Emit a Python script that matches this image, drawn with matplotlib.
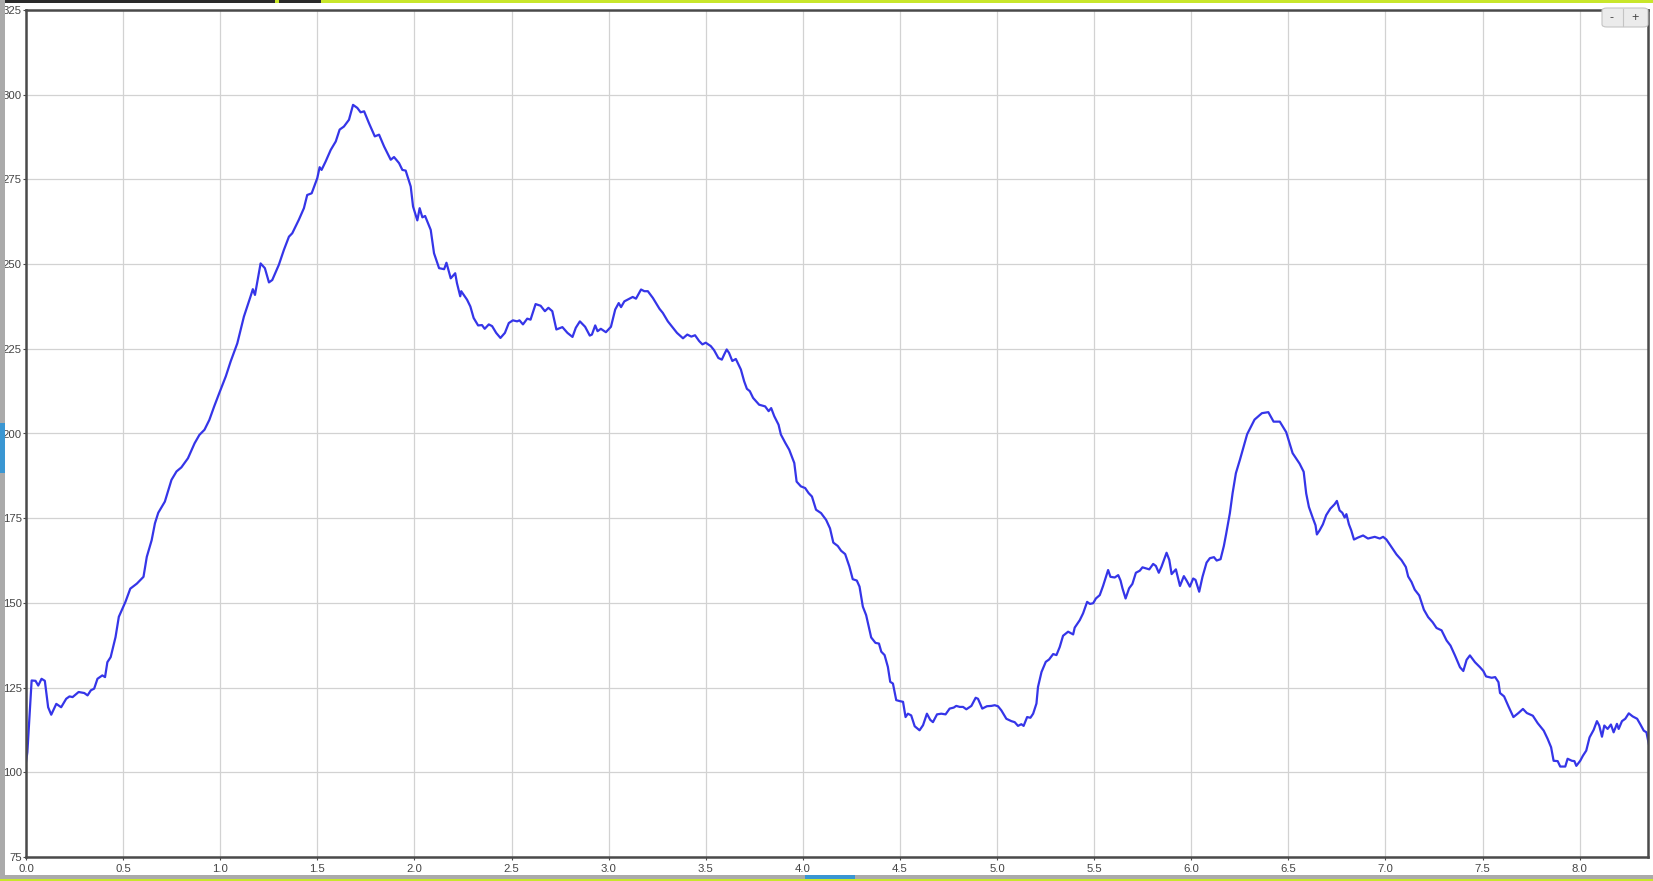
import matplotlib
matplotlib.use("Agg")
import matplotlib.pyplot as plt
from matplotlib.patches import Rectangle, FancyBboxPatch

# distance (x) and value (y)
distance = [
    0.0, 0.007, 0.029, 0.049, 0.063, 0.08, 0.097, 0.114, 0.13, 0.156, 0.181, 0.207, 0.224, 0.24,
    0.271, 0.3, 0.317, 0.334, 0.351, 0.368, 0.393, 0.407, 0.419, 0.436, 0.461, 0.478, 0.512,
    0.537, 0.571, 0.605, 0.622, 0.647, 0.664, 0.681, 0.715, 0.749, 0.775, 0.8, 0.834, 0.868,
    0.893, 0.919, 0.944, 0.969, 0.995, 1.029, 1.054,
    1.088, 1.122, 1.156, 1.168, 1.179, 1.208, 1.23, 1.251, 1.268, 1.302, 1.328, 1.354, 1.371,
    1.405, 1.431, 1.448, 1.471, 1.5, 1.512, 1.522, 1.543, 1.569, 1.595, 1.615, 1.637, 1.663,
    1.684, 1.706, 1.723, 1.741, 1.766, 1.796, 1.818, 1.844, 1.878, 1.895, 1.921, 1.938, 1.955,
    1.981, 1.993, 2.015, 2.027, 2.041, 2.055, 2.084, 2.101, 2.127, 2.153, 2.165, 2.187, 2.21,
    2.219, 2.236, 2.241, 2.271, 2.288, 2.305, 2.328, 2.348, 2.362, 2.383, 2.4, 2.421, 2.443,
    2.466, 2.486, 2.507, 2.529, 2.541, 2.559, 2.581, 2.598, 2.624, 2.65, 2.672, 2.69, 2.71,
    2.731, 2.762, 2.788, 2.814, 2.831, 2.852, 2.879, 2.903, 2.914, 2.931, 2.943, 2.96, 2.986,
    3.012, 3.034, 3.052, 3.064, 3.081, 3.107, 3.124, 3.141, 3.167, 3.184, 3.202, 3.228, 3.262,
    3.279, 3.305, 3.331, 3.352,
    3.383, 3.405, 3.426, 3.445, 3.466, 3.483, 3.5, 3.526, 3.543, 3.565, 3.583, 3.595, 3.608,
    3.62, 3.637, 3.655, 3.681, 3.698, 3.712, 3.727, 3.744, 3.775, 3.806, 3.824, 3.837, 3.853,
    3.875, 3.887, 3.91, 3.93, 3.956, 3.968, 3.99, 4.012, 4.03, 4.047, 4.068, 4.094, 4.12, 4.14,
    4.157, 4.18, 4.197, 4.218, 4.24, 4.257, 4.278, 4.292, 4.309, 4.326, 4.352, 4.374, 4.392,
    4.404, 4.421, 4.438, 4.45, 4.464, 4.481,
    4.5, 4.516, 4.529, 4.541, 4.558, 4.576, 4.601, 4.619, 4.639, 4.656, 4.67, 4.691, 4.713,
    4.735, 4.756, 4.777, 4.79, 4.808, 4.825, 4.842, 4.868, 4.89, 4.902, 4.924, 4.948, 4.971,
    4.988, 5.005, 5.022, 5.048, 5.074, 5.091, 5.108, 5.125, 5.137, 5.155, 5.172, 5.186, 5.203,
    5.211, 5.229, 5.251, 5.268, 5.289, 5.306, 5.323, 5.34, 5.366, 5.392, 5.4, 5.426, 5.443,
    5.464, 5.478, 5.495, 5.509, 5.529, 5.546, 5.572, 5.584, 5.606, 5.624, 5.636, 5.646, 5.662,
    5.68, 5.697, 5.715, 5.735, 5.749, 5.784, 5.804, 5.818, 5.833, 5.847, 5.873, 5.887, 5.899,
    5.921, 5.942, 5.962, 5.976, 5.993, 6.01, 6.022, 6.041, 6.058, 6.079, 6.096, 6.117, 6.131,
    6.151, 6.168, 6.179, 6.199, 6.213, 6.23, 6.251,
    6.288, 6.326, 6.364, 6.397, 6.424, 6.456, 6.489, 6.522,
    6.558, 6.579, 6.592, 6.606, 6.627, 6.64, 6.647, 6.661, 6.678, 6.695, 6.716, 6.738, 6.75,
    6.764, 6.778, 6.79, 6.799, 6.812, 6.824, 6.838, 6.859, 6.885, 6.91, 6.945, 6.971, 6.988,
    7.005, 7.031, 7.057, 7.083, 7.105, 7.117, 7.134, 7.151, 7.174, 7.198, 7.22, 7.243, 7.263,
    7.289, 7.315, 7.335, 7.358, 7.384, 7.401, 7.418, 7.435, 7.461, 7.487, 7.504, 7.518, 7.547,
    7.565, 7.582, 7.59, 7.611, 7.634, 7.659, 7.685, 7.708, 7.728, 7.759, 7.784, 7.815, 7.835,
    7.853, 7.866, 7.887, 7.9, 7.926, 7.938, 7.96, 7.973, 7.983, 8.003, 8.017, 8.034, 8.051,
    8.072, 8.089, 8.101, 8.115, 8.127, 8.144, 8.161, 8.175, 8.192, 8.201, 8.218, 8.235, 8.253,
    8.273, 8.296, 8.313, 8.33, 8.344, 8.356,
]
values = [
    103.0, 105.9, 127.1, 127.0, 125.6, 127.6, 127.0, 119.2, 117.0, 120.2, 119.2, 121.7, 122.4, 122.2,
    123.7, 123.4, 122.7, 124.2, 124.7, 127.6, 128.6, 128.1, 132.5, 134.0, 139.9, 145.9, 150.3,
    154.2, 155.7, 157.7, 163.6, 168.5, 173.5, 176.6, 179.9, 186.3, 188.8, 190.0, 192.7, 197.1,
    199.6, 201.1, 204.0, 208.0, 211.9, 216.9, 221.3,
    226.6, 234.5, 240.4, 242.6, 240.9, 250.2, 248.8, 244.6, 245.3, 249.8, 254.2, 258.1, 259.1,
    263.1, 266.5, 270.4, 270.9, 275.4, 278.6, 277.8, 280.3, 283.7, 286.2, 289.7, 290.6, 292.6,
    297.0, 296.1, 294.8, 295.1, 291.6, 287.7, 288.2, 284.7, 280.8, 281.6, 279.8, 277.8, 277.6,
    272.9, 267.0, 262.9, 266.5, 263.8, 264.2, 260.1, 253.2, 248.8, 248.5, 250.4, 245.8, 247.3,
    244.4, 240.5, 242.0, 239.5, 237.5, 234.1, 231.9, 232.0, 230.9, 232.2, 231.7, 229.7, 228.2,
    229.7, 232.6, 233.4, 233.1, 233.4, 232.2, 233.9, 233.6, 238.2, 237.7, 236.1, 237.1, 236.1,
    230.7, 231.4, 229.7, 228.5, 231.2, 233.1, 231.5, 228.9, 229.2, 231.9, 230.2, 230.9, 229.9,
    231.5, 236.6, 238.5, 237.3, 239.0, 239.8, 240.3, 239.8, 242.5, 242.0, 242.0, 240.0, 236.8,
    235.6, 233.1, 231.2, 229.7,
    228.1, 229.2, 228.6, 229.0, 227.3, 226.3, 226.8, 225.8, 224.6, 222.3, 221.8, 223.3, 224.8,
    223.8, 221.4, 222.0, 218.9, 215.4, 213.2, 212.5, 210.5, 208.5, 208.0, 206.6, 207.5, 205.1,
    202.6, 199.7, 197.2, 195.2, 191.3, 185.8, 184.4, 183.9, 182.4, 181.4, 177.5, 176.5, 174.5, 172.0,
    167.8, 166.8, 165.4, 164.4, 160.7, 157.0, 156.6, 154.8, 148.9, 146.4, 139.8, 138.2, 138.0,
    135.6, 134.6, 131.1, 126.7, 126.2, 121.3,
    121.0, 120.8, 116.3, 117.3, 116.8, 113.6, 112.4, 113.9, 117.3, 115.5, 114.8, 117.1, 117.3,
    117.1, 118.8, 119.1, 119.6, 119.3, 119.3, 118.6, 119.6, 122.0, 121.7, 118.8, 119.5, 119.6,
    119.8, 119.5, 118.3, 115.8, 115.1, 114.8, 113.7, 114.2, 113.7, 116.3, 116.1, 117.3, 120.3,
    125.2, 129.6, 132.6, 133.3, 134.9, 134.6, 137.0, 140.3, 141.5, 140.7, 142.7, 144.9, 146.9,
    150.3, 149.7, 149.9, 151.3, 152.3, 155.0, 159.7, 157.7, 157.5, 158.2, 156.6, 154.3, 151.3,
    154.3, 155.6, 158.9, 159.5, 160.5, 159.9, 161.5, 160.9, 158.9, 160.7, 164.8, 162.7, 158.5,
    159.9, 155.0, 157.9, 156.6, 154.8, 157.2, 156.8, 153.3, 157.7, 161.9, 163.2, 163.5, 162.5,
    162.9, 166.8, 170.1, 176.5, 182.4, 188.3, 192.3,
    199.8, 204.1, 206.0, 206.3, 203.5, 203.5, 200.4, 194.2,
    191.1, 188.7, 182.3, 178.3, 174.9, 172.9, 170.2, 171.4, 173.2, 175.9, 177.8, 179.1, 180.1,
    177.3, 176.6, 175.2, 176.2, 173.2, 171.4, 168.7, 169.3, 169.9, 169.0, 169.5, 169.0, 169.5,
    168.7, 166.5, 164.3, 162.6, 160.6, 157.8, 156.2, 153.9, 152.2, 148.0, 145.8, 144.3, 142.6,
    141.9, 138.9, 137.4, 134.5, 131.0, 129.9, 133.2, 134.5, 132.5, 131.0, 129.9, 128.3, 127.9,
    128.1, 126.6, 123.4, 122.4, 119.4, 116.3, 117.5, 118.7, 117.5, 116.7, 114.5, 112.3, 109.9,
    107.4, 103.4, 103.3, 101.7, 101.7, 104.0, 103.4, 103.3, 101.9, 103.4, 104.9, 106.4, 110.3,
    112.5, 115.1, 113.8, 110.5, 113.8, 112.8, 114.1, 111.8, 114.3, 112.8, 115.1, 115.8, 117.4,
    116.5, 115.8, 114.1, 112.3, 111.8, 108.4,
]
x_ticks = [0.0, 0.5, 1.0, 1.5, 2.0, 2.5, 3.0, 3.5, 4.0, 4.5, 5.0, 5.5, 6.0, 6.5, 7.0, 7.5, 8.0]
y_ticks = [75, 100, 125, 150, 175, 200, 225, 250, 275, 300, 325]

W, H = 1653, 881
plt.rcParams['font.family'] = ['Liberation Sans', 'DejaVu Sans']

fig = plt.figure(figsize=(W / 100, H / 100), dpi=100)
fig.patch.set_facecolor('white')


def fx(px):
    return px / W


def fy(py):
    return 1 - py / H


ax = fig.add_axes([fx(26), fy(857), fx(1648) - fx(26), fy(10) - fy(857)])
ax.plot(distance, values, color='#3535e8', lw=1.6, solid_joinstyle='round')
ax.set_xlim(0, 8.352)
ax.set_ylim(75, 325)
ax.set_xticks(x_ticks)
ax.set_yticks(y_ticks)
ax.set_xticklabels(['%.1f' % v for v in x_ticks])
ax.set_yticklabels([str(v) for v in y_ticks])
ax.grid(True, color='#d2d2d2', lw=0.9)
ax.set_axisbelow(True)
for s in ax.spines.values():
    s.set_color('#4a4a4a')
    s.set_linewidth(1.8)
ax.tick_params(axis='both', length=2, width=0.8, color='#4a4a4a', labelsize=8.2, labelcolor='#444444')
ax.tick_params(axis='y', pad=1)
ax.tick_params(axis='x', pad=3)

# page chrome around the chart
fig.add_artist(Rectangle((0, fy(3)), 1, fy(0) - fy(3), transform=fig.transFigure, color='#2b2b2b', lw=0))
fig.add_artist(Rectangle((fx(275), fy(3)), fx(4), fy(0) - fy(3), transform=fig.transFigure, color='#c8e62a', lw=0))
fig.add_artist(Rectangle((fx(321), fy(3)), 1 - fx(321), fy(0) - fy(3), transform=fig.transFigure, color='#c8e62a', lw=0))
fig.add_artist(Rectangle((0, 0), fx(5), 1, transform=fig.transFigure, color='#aaaaaa', lw=0))
fig.add_artist(Rectangle((0, fy(473)), fx(5), fy(423) - fy(473), transform=fig.transFigure, color='#3a96d2', lw=0))
fig.add_artist(Rectangle((0, fy(879)), 1, fy(875) - fy(879), transform=fig.transFigure, color='#aaaaaa', lw=0))
fig.add_artist(Rectangle((fx(805), fy(879)), fx(50), fy(875) - fy(879), transform=fig.transFigure, color='#3a96d2', lw=0))
fig.add_artist(Rectangle((0, 0), 1, fy(879), transform=fig.transFigure, color='#c8e62a', lw=0))

# zoom buttons
btn = FancyBboxPatch((fx(1602), fy(27)), fx(1648) - fx(1602), fy(8) - fy(27),
                     boxstyle='round,pad=0,rounding_size=0.003', transform=fig.transFigure,
                     facecolor='#ebebeb', edgecolor='#c4c4c4', lw=0.8, zorder=5)
fig.add_artist(btn)
fig.add_artist(plt.Line2D([fx(1623), fx(1623)], [fy(26), fy(9)], transform=fig.transFigure,
                          color='#c4c4c4', lw=0.8, zorder=6))
fig.text(fx(1612), fy(18), '-', ha='center', va='center', fontsize=9, color='#444444', zorder=7)
fig.text(fx(1635), fy(18), '+', ha='center', va='center', fontsize=9, color='#444444', zorder=7)

fig.savefig('out.png', dpi=100)
